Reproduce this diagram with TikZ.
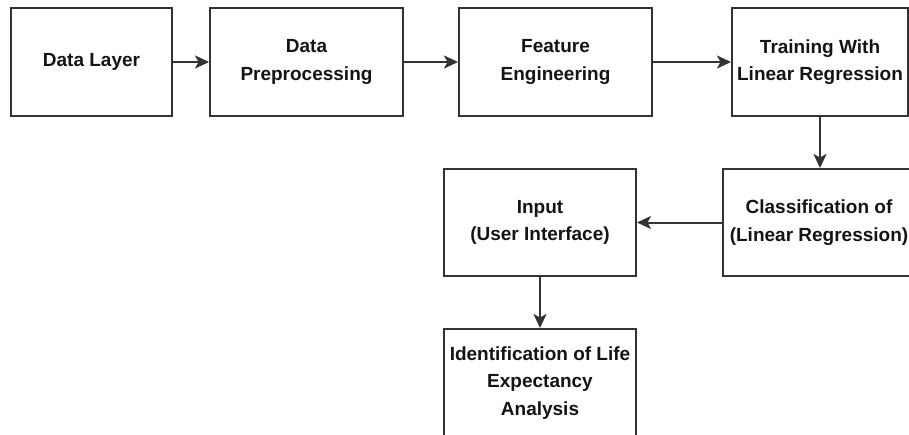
\documentclass[tikz,border=0pt]{standalone}
\usepackage{fontspec}
\setmainfont{Liberation Sans}
\usetikzlibrary{arrows.meta}
\definecolor{edge}{HTML}{333333}
\definecolor{txt}{HTML}{141414}
\begin{document}
\begin{tikzpicture}[x=1pt,y=-1pt,
  box/.style={draw=edge, line width=2pt, rectangle, inner sep=0pt, align=center,
    text=txt, font=\fontsize{19}{27.5}\selectfont\bfseries},
  conn/.style={draw=edge, line width=2pt, -{Stealth[length=14pt,width=13pt,inset=3.5pt]}}]
\useasboundingbox (0,0) rectangle (909,434);
\fill[white] (0,0) rectangle (909,434);
\node[box, minimum width=161pt, minimum height=108pt] (dl) at (91.5,62) {Data Layer};
\node[box, minimum width=193pt, minimum height=108pt] (dp) at (306.5,62) {Data\\Preprocessing};
\node[box, minimum width=193pt, minimum height=108pt] (fe) at (555.5,62) {Feature\\Engineering};
\node[box, minimum width=176pt, minimum height=108pt] (tr) at (820,62) {Training With\\Linear Regression};
\node[box, minimum width=192pt, minimum height=107pt] (cl) at (819,222.5) {Classification of\\(Linear Regression)};
\node[box, minimum width=192pt, minimum height=107pt] (in) at (540,222.5) {Input\\(User Interface)};
\node[box, minimum width=192pt, minimum height=108pt] (id) at (540,383) {Identification of Life\\Expectancy\\Analysis};
\draw[conn] (tr.south) -- (tr.south |- cl.north);
\draw[conn] (dl) -- (dp);
\draw[conn] (dp) -- (fe);
\draw[conn] (fe) -- (tr);
\draw[conn] (cl) -- (in);
\draw[conn] (in) -- (id);
\end{tikzpicture}
\end{document}
